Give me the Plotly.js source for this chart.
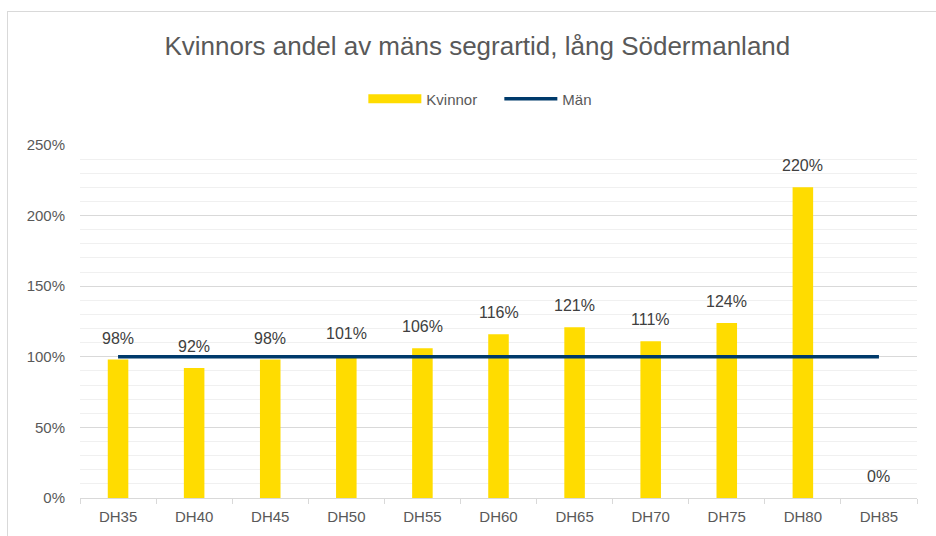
<!DOCTYPE html>
<html>
<head>
<meta charset="utf-8">
<script src="https://cdn.plot.ly/plotly-3.0.1.min.js"></script>
<style>
html,body{margin:0;padding:0;background:#fff;}
#wrap{position:relative;width:936px;height:536px;overflow:hidden;}
#chart{width:936px;height:536px;}
#frame{position:absolute;left:7px;top:11px;width:1000px;height:600px;border:1.5px solid #d9d9d9;pointer-events:none;box-sizing:border-box;}
</style>
</head>
<body>
<div id="wrap"><div id="chart"></div><div id="frame"></div></div>
<script>
const categories = ["DH35","DH40","DH45","DH50","DH55","DH60","DH65","DH70","DH75","DH80","DH85"];
const kvinnor = [0.98,0.92,0.98,1.01,1.06,1.16,1.21,1.11,1.24,2.20,0];
const man = [1,1,1,1,1,1,1,1,1,1,1];
const labels = ["98%","92%","98%","101%","106%","116%","121%","111%","124%","220%","0%"];

const font = "Liberation Sans, Arial, sans-serif";
const yellow = "#FFDC00";
const navy = "#003A6B";

const traces = [
  {type:"bar", name:"Kvinnor", x:categories, y:kvinnor, marker:{color:yellow}, hoverinfo:"skip", showlegend:false},
  {type:"scatter", mode:"lines", name:"Kvinnor", x:[null], y:[null], line:{color:yellow, width:9}, hoverinfo:"skip", showlegend:true},
  {type:"scatter", mode:"lines", name:"Män", x:categories, y:man, line:{color:navy, width:3.5}, hoverinfo:"skip"}
];

const annotations = categories.map((c,i)=>({
  x:c, y:kvinnor[i], xref:"x", yref:"y", text:labels[i], showarrow:false,
  yanchor:"bottom", yshift:11, font:{family:font, size:16, color:"#404040"}
}));

const layout = {
  width:936, height:536,
  margin:{l:80, r:19, t:145, b:38},
  paper_bgcolor:"#fff", plot_bgcolor:"#fff",
  title:{text:"Kvinnors andel av mäns segrartid, lång Södermanland", x:0.51, xanchor:"center", y:0.915, yanchor:"middle",
         font:{family:font, size:26, color:"#595959"}},
  showlegend:true,
  legend:{orientation:"h", x:0.366, xanchor:"left", y:1.13, yanchor:"middle", font:{family:font, size:15, color:"#595959"},
          entrywidth:91, entrywidthmode:"pixels", bgcolor:"rgba(0,0,0,0)"},
  bargap:0.73,
  xaxis:{type:"category", showline:true, linecolor:"#d9d9d9", linewidth:1, ticks:"outside", tickson:"boundaries", ticklen:5, tickcolor:"#d9d9d9",
         tickfont:{family:font, size:15, color:"#595959"}, showgrid:false, fixedrange:true, ticklabelstandoff:5},
  yaxis:{range:[0,2.5], dtick:0.5, tickformat:".0%", showgrid:true, gridcolor:"#d9d9d9", gridwidth:1, zeroline:false,
         minor:{dtick:0.1, showgrid:true, gridcolor:"#f0f0f0", gridwidth:1},
         tickfont:{family:font, size:15, color:"#595959"}, ticks:"", ticklabelstandoff:14, fixedrange:true},
  annotations:annotations
};

const gd = document.getElementById("chart");
Plotly.newPlot(gd, traces, layout, {displayModeBar:false, staticPlot:true}).then(()=>{
  gd.querySelectorAll(".legend [clip-path]").forEach(e=>e.removeAttribute("clip-path"));
  gd.querySelectorAll(".legend .legendlines path").forEach(p=>p.setAttribute("d","M-18,0h53"));
});
</script>
</body>
</html>
